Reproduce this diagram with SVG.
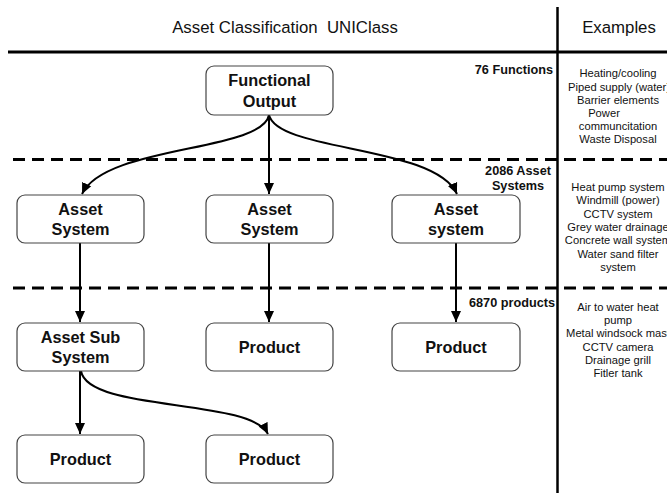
<svg xmlns="http://www.w3.org/2000/svg" width="667" height="493" viewBox="0 0 667 493">
<defs>
<marker id="ah" markerUnits="userSpaceOnUse" markerWidth="12" markerHeight="12" viewBox="0 0 12 12" refX="11" refY="6" orient="auto">
<path d="M0,1 L11,6 L0,11 Z" fill="#000"/>
</marker>
<style>
.box{fill:#fff;stroke:#444;stroke-width:1.2}
.nt{font-family:"Liberation Sans",Arial,sans-serif;font-weight:bold;font-size:16.3px;text-anchor:middle;fill:#111}
.ex{font-family:"Liberation Sans",Arial,sans-serif;font-size:11.2px;text-anchor:middle;fill:#111}
.cnt{font-family:"Liberation Sans",Arial,sans-serif;font-weight:bold;font-size:12.7px;fill:#111}
.hd{font-family:"Liberation Sans",Arial,sans-serif;font-size:16.8px;text-anchor:middle;fill:#111}
.con{fill:none;stroke:#000;stroke-width:2;marker-end:url(#ah)}
.dash{stroke:#000;stroke-width:3;stroke-dasharray:12 7}
</style>
</defs>
<rect width="667" height="493" fill="#fff"/>
<g id="frame">
<line x1="8" y1="52" x2="667" y2="52" stroke="#000" stroke-width="3"/>
<line x1="557.5" y1="7" x2="557.5" y2="493" stroke="#000" stroke-width="2.5"/>
<line class="dash" x1="13" y1="159.5" x2="667" y2="159.5"/>
<line class="dash" x1="13" y1="288" x2="667" y2="288"/>
<text class="hd" x="285" y="33" xml:space="preserve">Asset Classification  UNIClass</text>
<text class="hd" x="619" y="33">Examples</text>
</g>
<g id="counts">
<text class="cnt" x="553" y="74" text-anchor="end">76 Functions</text>
<text class="cnt" x="518" y="175" text-anchor="middle">2086 Asset</text>
<text class="cnt" x="518" y="190" text-anchor="middle">Systems</text>
<text class="cnt" x="555" y="307" text-anchor="end">6870 products</text>
</g>
<g id="examples">
<text class="ex" x="618" y="77.3">Heating/cooling</text>
<text class="ex" x="619" y="90.5">Piped supply (water)</text>
<text class="ex" x="618" y="103.7">Barrier elements</text>
<text class="ex" x="604" y="116.9">Power</text>
<text class="ex" x="618" y="130.1">communcitation</text>
<text class="ex" x="618" y="143.3">Waste Disposal</text>
<text class="ex" x="618" y="190.7">Heat pump system</text>
<text class="ex" x="618" y="204.1">Windmill (power)</text>
<text class="ex" x="618" y="217.5">CCTV system</text>
<text class="ex" x="618" y="230.9">Grey water drainage</text>
<text class="ex" x="618" y="244.3">Concrete wall system</text>
<text class="ex" x="618" y="257.7">Water sand filter</text>
<text class="ex" x="618" y="271.1">system</text>
<text class="ex" x="618" y="310.7">Air to water heat</text>
<text class="ex" x="618" y="324">pump</text>
<text class="ex" x="618" y="337.3">Metal windsock mast</text>
<text class="ex" x="618" y="350.6">CCTV camera</text>
<text class="ex" x="618" y="363.9">Drainage grill</text>
<text class="ex" x="618" y="377.2">Fitler tank</text>
</g>
<g id="connectors">
<path class="con" d="M269,115 C262,152 105,145 82,194"/>
<path class="con" d="M269,115 L269,194"/>
<path class="con" d="M269,115 C278,152 435,145 457,194"/>
<path class="con" d="M80,243 L80,322"/>
<path class="con" d="M269,243 L269,322"/>
<path class="con" d="M456,243 L456,322"/>
<path class="con" d="M80,371 L80,434"/>
<path class="con" d="M81,371 C88,412 250,398 268,434"/>
</g>
<g id="n-functional">
<rect class="box" x="206" y="66" width="127" height="49" rx="8"/>
<text class="nt" x="269.5" y="86">Functional</text>
<text class="nt" x="269.5" y="107">Output</text>
</g>
<g id="n-as1">
<rect class="box" x="17" y="195" width="127" height="48" rx="8"/>
<text class="nt" x="80.5" y="215">Asset</text>
<text class="nt" x="80.5" y="235">System</text>
</g>
<g id="n-as2">
<rect class="box" x="206" y="195" width="127" height="48" rx="8"/>
<text class="nt" x="269.5" y="215">Asset</text>
<text class="nt" x="269.5" y="235">System</text>
</g>
<g id="n-as3">
<rect class="box" x="392" y="195" width="128" height="48" rx="8"/>
<text class="nt" x="456" y="215">Asset</text>
<text class="nt" x="456" y="235">system</text>
</g>
<g id="n-sub">
<rect class="box" x="17" y="323" width="127" height="48" rx="8"/>
<text class="nt" x="80.5" y="343">Asset Sub</text>
<text class="nt" x="80.5" y="363">System</text>
</g>
<g id="n-p2">
<rect class="box" x="206" y="323" width="127" height="48" rx="8"/>
<text class="nt" x="269.5" y="353">Product</text>
</g>
<g id="n-p3">
<rect class="box" x="392" y="323" width="128" height="48" rx="8"/>
<text class="nt" x="456" y="353">Product</text>
</g>
<g id="n-p4">
<rect class="box" x="17" y="435" width="127" height="48" rx="8"/>
<text class="nt" x="80.5" y="465">Product</text>
</g>
<g id="n-p5">
<rect class="box" x="206" y="435" width="127" height="48" rx="8"/>
<text class="nt" x="269.5" y="465">Product</text>
</g>
</svg>
